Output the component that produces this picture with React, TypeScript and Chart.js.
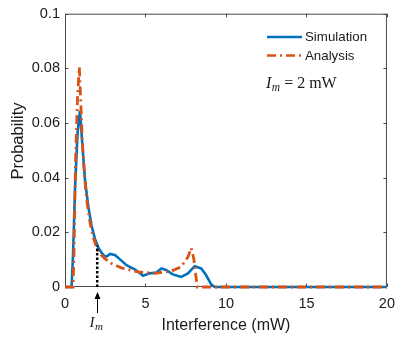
import React, { useEffect, useRef } from "react";
import { Chart, registerables } from "chart.js";

Chart.register(...registerables);

const simX = [0, 0.41, 0.5, 0.62, 0.78, 0.93, 1.07, 1.24, 1.44, 1.65, 1.86, 2.06, 2.27, 2.45, 2.6, 2.79, 3.1, 3.4, 3.82, 4.33, 4.6, 4.85, 5.26, 5.68, 5.99, 6.3, 6.7, 7.22, 7.64, 8.05, 8.46, 8.77, 9.08, 9.3, 20];
const simY = [0, 0, 0.012, 0.0358, 0.0563, 0.0645, 0.0527, 0.0394, 0.0297, 0.0225, 0.0176, 0.0146, 0.0125, 0.0113, 0.0112, 0.0121, 0.0117, 0.0102, 0.008, 0.0065, 0.0053, 0.0041, 0.005, 0.0053, 0.0068, 0.0062, 0.0046, 0.0037, 0.005, 0.0076, 0.0068, 0.0043, 0.001, 0, 0];

const anaX = [0, 0.5, 0.56, 0.66, 0.78, 0.89, 0.99, 1.07, 1.2, 1.34, 1.55, 1.75, 2.06, 2.48, 2.89, 3.5, 4.54, 5.57, 6.6, 7.22, 7.64, 7.84, 8.0, 8.15, 8.22, 20];
const anaY = [0, 0, 0.012, 0.0478, 0.0696, 0.0804, 0.066, 0.0539, 0.0418, 0.0321, 0.0237, 0.0182, 0.0128, 0.0104, 0.0086, 0.007, 0.0055, 0.005, 0.0058, 0.0074, 0.011, 0.0143, 0.0104, 0.0031, 0, 0];

const markerX = [2, 2];
const markerY = [0, 0.0152];

const xTicks = [0, 5, 10, 15, 20];
const yTicks = [0, 0.02, 0.04, 0.06, 0.08, 0.1];
const yTickLabels = ["0", "0.02", "0.04", "0.06", "0.08", "0.1"];
const seriesNames = ["Simulation", "Analysis"];

const BLUE = "#0072BD";
const ORANGE = "#D95319";
const TEXT = "#1a1a1a";
const SANS = "'Liberation Sans', Arial, Helvetica, sans-serif";
const SERIF = "'Liberation Serif', 'Times New Roman', serif";
const DASHDOT = [9, 4, 2, 4];

const overlay = {
  id: "overlay",
  beforeDatasetsDraw(chart: any) {
    const { ctx, chartArea: a, scales } = chart;
    ctx.save();
    ctx.strokeStyle = "#4a4a4a";
    ctx.lineWidth = 1;
    ctx.strokeRect(a.left + 0.5, a.top + 0.5, a.right - a.left - 1, a.bottom - a.top - 1);
    const tl = 3.5;
    ctx.beginPath();
    for (const v of xTicks) {
      const px = Math.round(scales.x.getPixelForValue(v)) + 0.5;
      ctx.moveTo(px, a.bottom);
      ctx.lineTo(px, a.bottom - tl);
      ctx.moveTo(px, a.top);
      ctx.lineTo(px, a.top + tl);
    }
    for (const v of yTicks) {
      const py = Math.round(scales.y.getPixelForValue(v)) + 0.5;
      ctx.moveTo(a.left, py);
      ctx.lineTo(a.left + tl, py);
      ctx.moveTo(a.right, py);
      ctx.lineTo(a.right - tl, py);
    }
    ctx.stroke();
    ctx.restore();
  },
  afterDraw(chart: any) {
    const { ctx, scales } = chart;
    ctx.save();
    ctx.fillStyle = TEXT;
    ctx.font = `16.5px ${SANS}`;
    ctx.textAlign = "center";
    ctx.textBaseline = "middle";
    ctx.translate(18.5, 141);
    ctx.rotate(-Math.PI / 2);
    ctx.fillText("Probability", 0, 0);
    ctx.restore();

    ctx.save();
    const lx0 = 267, lx1 = 302;
    ctx.lineWidth = 2.6;
    ctx.strokeStyle = BLUE;
    ctx.beginPath();
    ctx.moveTo(lx0, 37);
    ctx.lineTo(lx1, 37);
    ctx.stroke();
    ctx.strokeStyle = ORANGE;
    ctx.setLineDash(DASHDOT);
    ctx.beginPath();
    ctx.moveTo(lx0, 55.5);
    ctx.lineTo(lx1, 55.5);
    ctx.stroke();
    ctx.setLineDash([]);
    ctx.fillStyle = TEXT;
    ctx.font = `13.3px ${SANS}`;
    ctx.textAlign = "left";
    ctx.textBaseline = "middle";
    ctx.fillText(seriesNames[0], 305, 37);
    ctx.fillText(seriesNames[1], 305, 56);

    let x = 266;
    const by = 88;
    ctx.textBaseline = "alphabetic";
    ctx.font = `italic 16px ${SERIF}`;
    ctx.fillText("I", x, by);
    x += ctx.measureText("I").width + 0.5;
    ctx.font = `italic 11.5px ${SERIF}`;
    ctx.fillText("m", x, by + 3);
    x += ctx.measureText("m").width;
    ctx.font = `16px ${SERIF}`;
    ctx.fillText(" = 2 mW", x, by);

    const ax = Math.round(scales.x.getPixelForValue(markerX[0])) + 0.5;
    ctx.strokeStyle = "#000";
    ctx.lineWidth = 1;
    ctx.beginPath();
    ctx.moveTo(ax, 313);
    ctx.lineTo(ax, 297);
    ctx.stroke();
    ctx.fillStyle = "#000";
    ctx.beginPath();
    ctx.moveTo(ax, 292);
    ctx.lineTo(ax - 3, 299);
    ctx.lineTo(ax + 3, 299);
    ctx.closePath();
    ctx.fill();

    ctx.fillStyle = TEXT;
    let ix = ax - 8;
    ctx.font = `italic 15px ${SERIF}`;
    ctx.fillText("I", ix, 327);
    ix += ctx.measureText("I").width + 0.5;
    ctx.font = `italic 11px ${SERIF}`;
    ctx.fillText("m", ix, 330);
    ctx.restore();
  },
};

export default function App() {
  const ref = useRef<HTMLCanvasElement>(null);
  useEffect(() => {
    document.body.style.margin = "0";
    const sim = simX.map((x, i) => ({ x, y: simY[i] }));
    const ana = anaX.map((x, i) => ({ x, y: anaY[i] }));
    const mk = markerX.map((x, i) => ({ x, y: markerY[i] }));
    const chart = new Chart(ref.current!, {
      type: "line",
      data: {
        datasets: [
          { label: seriesNames[0], data: sim, borderColor: BLUE, borderWidth: 2.6, pointRadius: 0, tension: 0, order: 3, clip: 6 } as any,
          { label: seriesNames[1], data: ana, borderColor: ORANGE, borderWidth: 2.8, borderDash: DASHDOT, pointRadius: 0, tension: 0, order: 2, clip: 6 } as any,
          { label: "Im", data: mk, borderColor: "#000", borderWidth: 2.5, borderDash: [2.5, 2], pointRadius: 0, order: 1, clip: 6 } as any,
        ],
      },
      options: {
        animation: false,
        responsive: false,
        devicePixelRatio: 1,
        layout: { padding: { left: 0, right: 15, top: 10, bottom: 0 } },
        plugins: { legend: { display: false }, tooltip: { enabled: false } },
        scales: {
          x: {
            type: "linear",
            min: 0,
            max: 20,
            afterFit: (s: any) => { s.height = 54; },
            afterBuildTicks: (s: any) => { s.ticks = xTicks.map((v) => ({ value: v })); },
            grid: { display: false, drawTicks: false },
            border: { display: false },
            ticks: { padding: 8, color: TEXT, font: { size: 14.5, family: SANS }, maxRotation: 0 },
            title: { display: true, text: "Interference (mW)", color: TEXT, font: { size: 16, family: SANS }, padding: { top: 0, bottom: 5.5 } },
          },
          y: {
            type: "linear",
            min: 0,
            max: 0.1,
            afterFit: (s: any) => { s.width = 65; },
            afterBuildTicks: (s: any) => { s.ticks = yTicks.map((v) => ({ value: v })); },
            grid: { display: false, drawTicks: false },
            border: { display: false },
            ticks: {
              padding: 5,
              color: TEXT,
              font: { size: 14.5, family: SANS },
              callback: (_v: any, i: number) => yTickLabels[i],
            },
          },
        },
      },
      plugins: [overlay],
    });
    return () => chart.destroy();
  }, []);
  return (
    <div style={{ position: "absolute", left: 0, top: 0, width: 403, height: 341, background: "#fff" }}>
      <canvas ref={ref} width={403} height={341} style={{ width: 403, height: 341, display: "block" }} />
    </div>
  );
}
